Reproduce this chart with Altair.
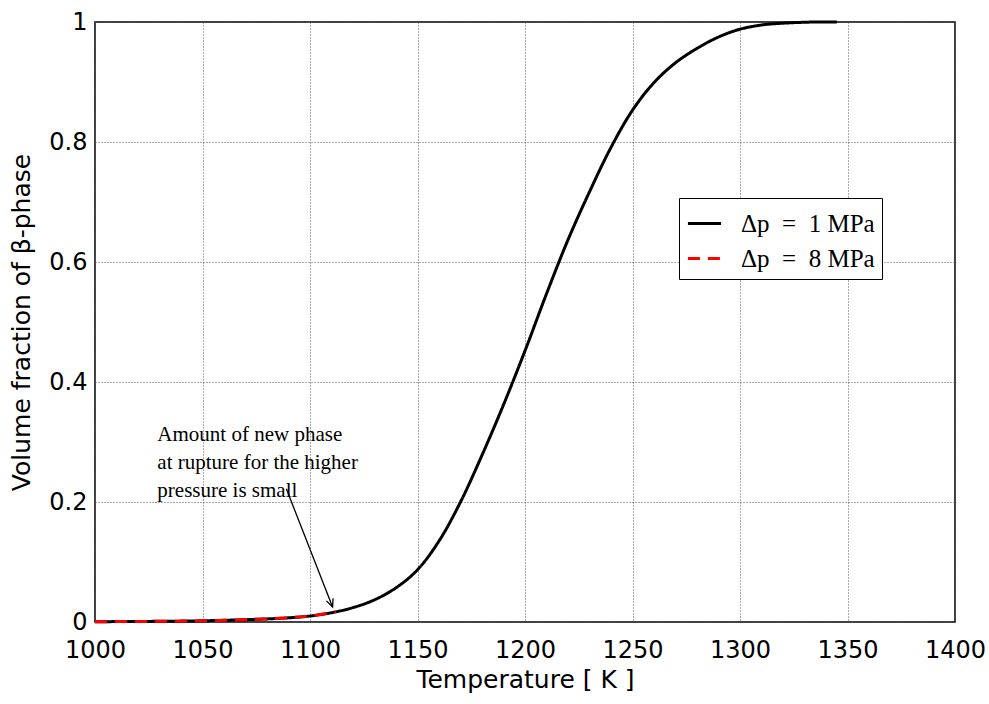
import altair as alt
import pandas as pd

temps = [1000, 1025, 1050, 1075, 1090, 1100, 1110, 1120, 1130, 1140, 1150, 1160, 1170, 1180,
         1190, 1200, 1210, 1220, 1230, 1240, 1250, 1260, 1270, 1280, 1290, 1300, 1310, 1320,
         1335, 1345]
frac_1mpa = [0.0005, 0.001, 0.002, 0.0045, 0.007, 0.010, 0.0155, 0.024, 0.037, 0.057, 0.087,
             0.135, 0.200, 0.278, 0.362, 0.452, 0.547, 0.637, 0.717, 0.791, 0.853, 0.899, 0.932,
             0.956, 0.975, 0.988, 0.995, 0.998, 1.0, 1.0]
temps_8 = [1000, 1025, 1050, 1075, 1090, 1100, 1112]
frac_8mpa = [0.0005, 0.001, 0.002, 0.0045, 0.007, 0.010, 0.017]

series_names = ["Δp\u2002=\u20021 MPa", "Δp\u2002=\u20028 MPa"]
x_ticks = [1000, 1050, 1100, 1150, 1200, 1250, 1300, 1350, 1400]
y_ticks = [0, 0.2, 0.4, 0.6, 0.8, 1.0]

note_text = ["Amount of new phase", "at rupture for the higher", "pressure is small"]
note_T = [1029]
note_v = [0.33]
arrow_T = [1089.0, 1110.5]
arrow_v = [0.222, 0.025]

df = pd.concat([
    pd.DataFrame({"T": temps, "v": frac_1mpa, "series": series_names[0]}),
    pd.DataFrame({"T": temps_8, "v": frac_8mpa, "series": series_names[1]}),
])

xs = alt.Scale(domain=[1000, 1400], nice=False)
ys = alt.Scale(domain=[0, 1], nice=False)

AX_FONT = "DejaVu Sans"
x_axis = alt.Axis(values=x_ticks, title="Temperature [ K ]", format="d",
                  grid=True, gridColor="#555", gridDash=[1, 2], gridWidth=1,
                  ticks=False, domain=False, labelPadding=16, labelFlush=False,
                  labelFont=AX_FONT, labelFontSize=24, labelColor="black",
                  titleFont=AX_FONT, titleFontSize=25, titleFontWeight="normal",
                  titleColor="black", titlePadding=5)
y_axis = alt.Axis(values=y_ticks, title="Volume fraction of β-phase",
                  labelExpr="datum.value == 0 ? '0' : datum.value == 1 ? '1' : format(datum.value, '.1f')",
                  grid=True, gridColor="#555", gridDash=[1, 2], gridWidth=1,
                  ticks=False, domain=False, labelPadding=8, labelFlush=False,
                  labelFont=AX_FONT, labelFontSize=24, labelColor="black",
                  titleFont=AX_FONT, titleFontSize=25, titleFontWeight="normal",
                  titleColor="black", titlePadding=14)

legend = alt.Legend(title=None, orient="none", legendX=584, legendY=176,
                    labelFont="Liberation Serif", labelFontSize=25,
                    labelColor="black", symbolType="stroke",
                    symbolStrokeWidth=3, symbolSize=1100,
                    strokeColor="black", fillColor="white",
                    padding=7, rowPadding=3, labelOffset=18)

lines = alt.Chart(df).mark_line(strokeWidth=3, interpolate="catmull-rom").encode(
    x=alt.X("T:Q", scale=xs, axis=x_axis),
    y=alt.Y("v:Q", scale=ys, axis=y_axis),
    color=alt.Color("series:N", scale=alt.Scale(domain=series_names, range=["black", "red"]),
                    legend=legend),
    strokeDash=alt.StrokeDash("series:N",
                              scale=alt.Scale(domain=series_names, range=[[1, 0], [12, 8]]),
                              legend=legend),
)

note = alt.Chart(pd.DataFrame({"T": note_T, "v": note_v, "t": [note_text]})).mark_text(
    align="left", baseline="top", font="Liberation Serif", fontSize=21, lineHeight=28, color="black"
).encode(x=alt.X("T:Q", scale=xs), y=alt.Y("v:Q", scale=ys), text="t")

arrow_df = pd.DataFrame({"T": arrow_T, "v": arrow_v})
arrow_line = alt.Chart(arrow_df).mark_line(color="black", strokeWidth=1.3).encode(
    x=alt.X("T:Q", scale=xs), y=alt.Y("v:Q", scale=ys))
arrow_head = alt.Chart(arrow_df.iloc[[1]]).mark_point(
    shape="M-0.45,-1L0,0L0.45,-1", filled=False, color="black", strokeWidth=1.3,
    size=250, angle=339, opacity=1
).encode(x=alt.X("T:Q", scale=xs), y=alt.Y("v:Q", scale=ys))

chart = alt.layer(lines, arrow_line, arrow_head, note).properties(
    width=860, height=600,
    autosize=alt.AutoSizeParams(type="none"),
    padding={"left": 95, "top": 22, "right": 34, "bottom": 82},
    background="white",
).configure_view(stroke="black", strokeWidth=1.5)

chart.save("out.html", embed_options={"renderer": "svg", "actions": False})
